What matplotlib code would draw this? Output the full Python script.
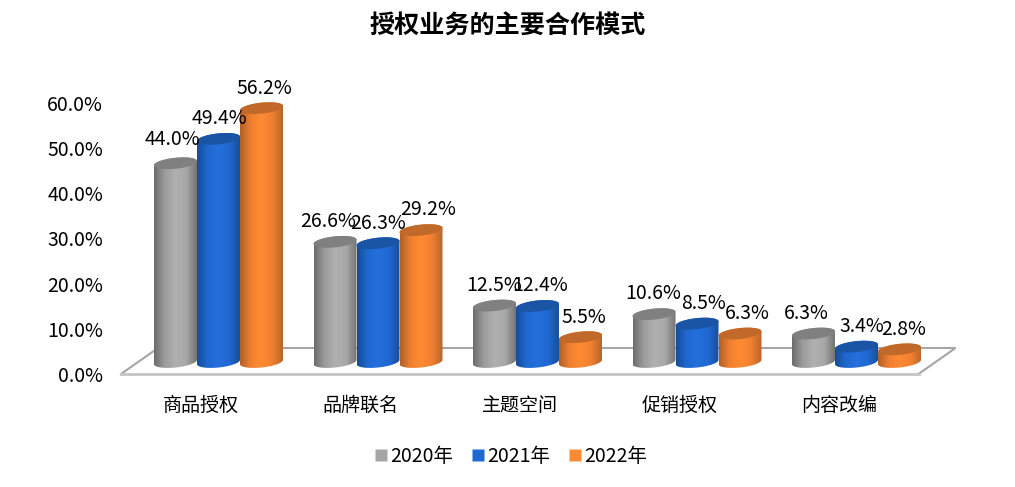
import numpy as np
import matplotlib
matplotlib.use('Agg')
import matplotlib.pyplot as plt
from matplotlib.colors import LinearSegmentedColormap
from matplotlib.lines import Line2D
from matplotlib.patches import Polygon

plt.rcParams['font.family'] = ['Noto Sans CJK SC', 'DejaVu Sans']

categories = ['商品授权', '品牌联名', '主题空间', '促销授权', '内容改编']
years = ['2020年', '2021年', '2022年']
values_2020 = [44.0, 26.6, 12.5, 10.6, 6.3]
values_2021 = [49.4, 26.3, 12.4, 8.5, 3.4]
values_2022 = [56.2, 29.2, 5.5, 6.3, 2.8]
y_ticks = [0, 10, 20, 30, 40, 50, 60]

# side shading, flat colour for legend, colour of the cap
styles = [
    (['#6c6c6c', '#9c9c9c', '#b0b0b0', '#a8a8a8', '#747474'], '#a5a5a5', '#808080'),
    (['#174d96', '#2068d2', '#2470dc', '#2068d2', '#174f9a'], '#2068d2', '#1a55a5'),
    (['#b0602a', '#f08030', '#ff8a33', '#f08030', '#b8662c'], '#ff8a33', '#c0692b'),
]

# sideways nudge of the value labels, in pixels, per series
label_nudge = [
    [-3, -7, 0, -1, -7],
    [1, 0, 3, 6, 5],
    [3, 7, 3, 7, 4],
]

W, H = 1015, 487
LEFT, RIGHT, BOTTOM, TOP = 121, 918.5, 374, 103

fig = plt.figure(figsize=(W / 100, H / 100), dpi=100)
ax = fig.add_axes([LEFT / W, 1 - BOTTOM / H, (RIGHT - LEFT) / W, (BOTTOM - TOP) / H])
ax.set_xlim(-0.5, 4.5)
ax.set_ylim(0, 60)

# px -> data scale
sx = 5 / (RIGHT - LEFT)
sy = 60 / (BOTTOM - TOP)

# depth of the 3d floor
depth_x, depth_y = 37 * sx, 26 * sy
floor = Polygon([(-0.5, 0), (4.5, 0), (4.5 + depth_x, depth_y), (-0.5 + depth_x, depth_y)],
                closed=True, facecolor='white', edgecolor='none', clip_on=False, zorder=1)
ax.add_patch(floor)
ax.plot([-0.5, -0.5 + depth_x, 4.5 + depth_x, 4.5], [0, depth_y, depth_y, 0],
        color='#a6a6a6', lw=1.5, clip_on=False, zorder=1, solid_joinstyle='miter')
ax.plot([-0.5, 4.5], [0, 0], color='#c4c4c4', lw=2, clip_on=False, zorder=1)

bar_w = 43 * sx
a = bar_w / 2
b = 5.5 * sy
tilt = 0.1 * 43 / 2 * sy
t_low = np.linspace(np.pi, 2 * np.pi, 60)
t_up = np.linspace(0, np.pi, 60)
t_all = np.linspace(0, 2 * np.pi, 120)


def cylinder(x, base, top, stops, cap, z):
    # body outline: lower half of the base ellipse, upper half of the top ellipse
    xs = np.r_[x + a * np.cos(t_low), x + a * np.cos(t_up)]
    ys = np.r_[base + b * np.sin(t_low) + tilt * np.cos(t_low),
               top + b * np.sin(t_up) + tilt * np.cos(t_up)]
    outline = Polygon(np.c_[xs, ys], closed=True, transform=ax.transData)
    grad = np.linspace(0, 1, 128).reshape(1, -1)
    cmap = LinearSegmentedColormap.from_list('side', stops)
    im = ax.imshow(grad, extent=[x - a, x + a, ys.min(), ys.max()], aspect='auto',
                   cmap=cmap, zorder=z, interpolation='bilinear')
    im.set_clip_path(outline)
    im.set_clip_box(fig.bbox)
    lid = Polygon(np.c_[x + a * np.cos(t_all), top + b * np.sin(t_all) + tilt * np.cos(t_all)],
                  closed=True, facecolor=cap, edgecolor='none', zorder=z + 0.1, clip_on=False)
    ax.add_patch(lid)


# bars sit mid way into the floor
off_x, off_y = 17.75 * sx, 12 * sy
series = [values_2020, values_2021, values_2022]
for s, vals in enumerate(series):
    stops, flat, cap = styles[s]
    for i, v in enumerate(vals):
        x = i + (s - 1) * bar_w + off_x
        cylinder(x, off_y, v + off_y, stops, cap, 2 + s + i * 3)
        lift = 17 if v == 44.0 else 14.5
        ax.annotate(f'{v:.1f}%', (x, v + off_y), xytext=(label_nudge[s][i] * 0.72, lift),
                    textcoords='offset points', ha='center', va='center', fontsize=14,
                    color='black', zorder=30, annotation_clip=False)

ax.set_xlim(-0.5, 4.5)
ax.set_ylim(0, 60)
ax.set_xticks(range(5))
ax.set_xticklabels(categories, fontsize=13.7)
ax.set_yticks(y_ticks)
ax.set_yticklabels([f'{t:.1f}%' for t in y_ticks], fontsize=14)
ax.tick_params(axis='x', length=0, pad=15)
ax.tick_params(axis='y', length=0, pad=13)
for sp in ax.spines.values():
    sp.set_visible(False)
ax.patch.set_alpha(0)

fig.text(507.5 / W, 1 - 26 / H, '授权业务的主要合作模式', fontsize=18.1, fontweight='bold',
         ha='center', va='center')

handles = [Line2D([], [], linestyle='none', marker='s', markersize=8,
                  markerfacecolor=st[1], markeredgecolor='none') for st in styles]
fig.legend(handles, years, loc='center', bbox_to_anchor=(510 / W, 1 - 456 / H), ncol=3,
           frameon=False, fontsize=14, handlelength=0.8, handletextpad=0.1, columnspacing=0.85)

fig.savefig('out.png', dpi=100)
